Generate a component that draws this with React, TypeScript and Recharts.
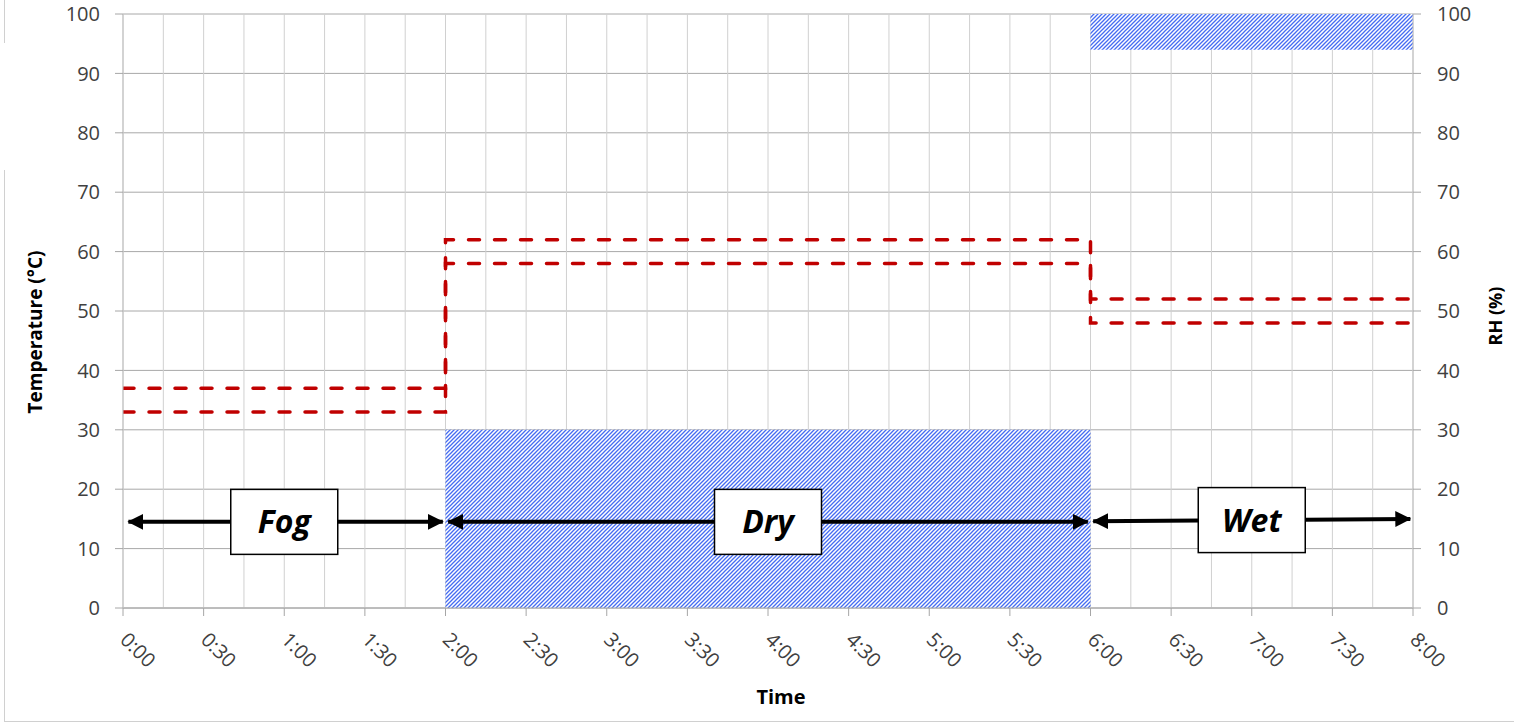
import React from 'react';
import {
  ComposedChart,
  Line,
  XAxis,
  YAxis,
  CartesianGrid,
  ReferenceArea,
  ReferenceLine,
  ReferenceDot,
} from 'recharts';

// ---- data ----
const stepTimes = [0, 120, 360, 480]; // minutes
const tempUpper = [37, 62, 52, 52];
const tempLower = [33, 58, 48, 48];

const rhStart = [120, 360];
const rhEnd = [360, 480];
const rhLow = [0, 94];
const rhHigh = [30, 100];

const phaseLabels = ['Fog', 'Dry', 'Wet'];
const phaseStart = [0, 120, 360];
const phaseEnd = [120, 360, 480];
const arrowFrom = [2, 121, 361];
const arrowTo = [119, 359, 479];
const arrowYFrom = [14.5, 14.5, 14.6];
const arrowYTo = [14.5, 14.5, 15.0];

const xTicks = Array.from({ length: 33 }, (_, i) => i * 15);
const yTicks = [0, 10, 20, 30, 40, 50, 60, 70, 80, 90, 100];

const data = stepTimes.map((t, i) => ({ t, upper: tempUpper[i], lower: tempLower[i] }));

const fmtTime = (m: number) => `${Math.floor(m / 60)}:${String(m % 60).padStart(2, '0')}`;

const XTick = (props: any) => {
  const { x, y, payload } = props;
  const v = payload.value;
  if (v % 30 !== 0) return null;
  return (
    <g>
      <line x1={x} x2={x} y1={y - 8} y2={y} stroke="#a6a6a6" strokeWidth={1} />
      <text
        x={0}
        y={0}
        dy="0.35em"
        transform={`translate(${x + 1},${y + 20}) rotate(45)`}
        textAnchor="start"
        fill="#404040"
        fontSize={20}
      >
        {fmtTime(v)}
      </text>
    </g>
  );
};

const makeBox = (label: string) => (p: any) => (
  <g>
    <rect x={p.cx - 53.5} y={p.cy - 32.5} width={107} height={65} fill="#fff" stroke="#000" strokeWidth={1.5} />
    <text
      x={p.cx}
      y={p.cy}
      dy="0.36em"
      textAnchor="middle"
      fontSize={32}
      fontWeight="bold"
      fontStyle="italic"
      fill="#000"
    >
      {label}
    </text>
  </g>
);

const TempTitle = (p: any) => {
  const vb = p.viewBox;
  const cx = vb.x - 28;
  const cy = vb.y + vb.height / 2 + 21;
  return (
    <text x={cx} y={cy} dy="0.35em" transform={`rotate(-90, ${cx}, ${cy})`} textAnchor="middle" fontSize={19} fontWeight="bold" fill="#000">
      Temperature (°C)
    </text>
  );
};

const RhTitle = (p: any) => {
  const vb = p.viewBox;
  const cx = vb.x + 83;
  const cy = vb.y + vb.height / 2 + 5;
  return (
    <text x={cx} y={cy} dy="0.35em" transform={`rotate(-90, ${cx}, ${cy})`} textAnchor="middle" fontSize={18} fontWeight="bold" fill="#000">
      RH (%)
    </text>
  );
};

const TimeTitle = (p: any) => {
  const vb = p.viewBox;
  return (
    <text x={vb.x + vb.width / 2 + 13} y={vb.y + vb.height + 29} dy="0.35em" textAnchor="middle" fontSize={20} fontWeight="bold" fill="#000">
      Time
    </text>
  );
};

export default function App() {
  return (
    <div
      style={{
        position: 'absolute',
        left: 0,
        top: 0,
        width: 1514,
        height: 723,
        background: '#fff',
        fontFamily: '"Open Sans", sans-serif',
      }}
    >
      <div style={{ position: 'absolute', left: 4, top: 0, width: 1, height: 43, background: '#d0d0d0' }} />
      <div style={{ position: 'absolute', left: 4, top: 170, width: 1, height: 552, background: '#d0d0d0' }} />
      <div style={{ position: 'absolute', left: 4, top: 721, width: 1510, height: 1, background: '#d0d0d0' }} />
      <ComposedChart
        width={1514}
        height={723}
        data={data}
        margin={{ top: 14, right: 41, bottom: 55, left: 63 }}
      >
        <defs>
          <pattern id="hatch" patternUnits="userSpaceOnUse" width="4" height="4">
            <rect width="4" height="4" fill="#fff" />
            <path d="M-1,1 l2,-2 M0,4 l4,-4 M3,5 l2,-2" stroke="#456cf2" strokeWidth="1.3" />
          </pattern>
          <marker
            id="arrowHead"
            markerWidth="16"
            markerHeight="16"
            refX="15"
            refY="8"
            orient="auto-start-reverse"
            markerUnits="userSpaceOnUse"
          >
            <path d="M0,0 L16,8 L0,16 z" fill="#000" />
          </marker>
        </defs>
        <CartesianGrid vertical={false} stroke="#a8a8a8" yAxisId="left" />
        <CartesianGrid horizontal={false} stroke="#d0d0d0" />
        <XAxis
          type="number"
          dataKey="t"
          domain={[0, 480]}
          allowDataOverflow
          ticks={xTicks}
          interval={0}
          height={60}
          tickLine={false}
          tickSize={8}
          tickMargin={0}
          axisLine={{ stroke: '#a6a6a6' }}
          tick={<XTick />}
          label={<TimeTitle />}
        />
        <YAxis
          yAxisId="left"
          domain={[0, 100]}
          allowDataOverflow
          ticks={yTicks}
          interval={0}
          width={60}
          tickSize={8}
          tickMargin={15}
          tickLine={{ stroke: '#a6a6a6' }}
          axisLine={{ stroke: '#bfbfbf' }}
          tick={{ fill: '#404040', fontSize: 20 }}
          label={<TempTitle />}
        />
        <YAxis
          yAxisId="right"
          orientation="right"
          domain={[0, 100]}
          allowDataOverflow
          ticks={yTicks}
          interval={0}
          width={60}
          tickSize={8}
          tickMargin={16}
          tickLine={{ stroke: '#a6a6a6' }}
          axisLine={{ stroke: '#bfbfbf' }}
          tick={{ fill: '#404040', fontSize: 20 }}
          label={<RhTitle />}
        />
        {rhStart.map((s, i) => (
          <ReferenceArea
            key={`rh${i}`}
            yAxisId="right"
            x1={s}
            x2={rhEnd[i]}
            y1={rhLow[i]}
            y2={rhHigh[i]}
            fill="url(#hatch)"
            fillOpacity={1}
            stroke="none"
          />
        ))}
        <Line
          yAxisId="left"
          type="stepAfter"
          dataKey="upper"
          stroke="#c00000"
          strokeWidth={3.5}
          strokeDasharray="11 15"
          strokeLinecap="round"
          dot={false}
          activeDot={false}
          isAnimationActive={false}
        />
        <Line
          yAxisId="left"
          type="stepAfter"
          dataKey="lower"
          stroke="#c00000"
          strokeWidth={3.5}
          strokeDasharray="11 15"
          strokeLinecap="round"
          dot={false}
          activeDot={false}
          isAnimationActive={false}
        />
        {arrowFrom.map((a, i) => (
          <ReferenceLine
            key={`ar${i}`}
            yAxisId="left"
            segment={[
              { x: a, y: arrowYFrom[i] },
              { x: arrowTo[i], y: arrowYTo[i] },
            ]}
            stroke="#000"
            strokeWidth={4}
            markerStart="url(#arrowHead)"
            markerEnd="url(#arrowHead)"
          />
        ))}
        {phaseLabels.map((lab, i) => (
          <ReferenceDot
            key={`lb${i}`}
            yAxisId="left"
            x={(phaseStart[i] + phaseEnd[i]) / 2}
            y={(arrowYFrom[i] + arrowYTo[i]) / 2}
            r={0}
            shape={makeBox(lab)}
          />
        ))}
      </ComposedChart>
    </div>
  );
}
